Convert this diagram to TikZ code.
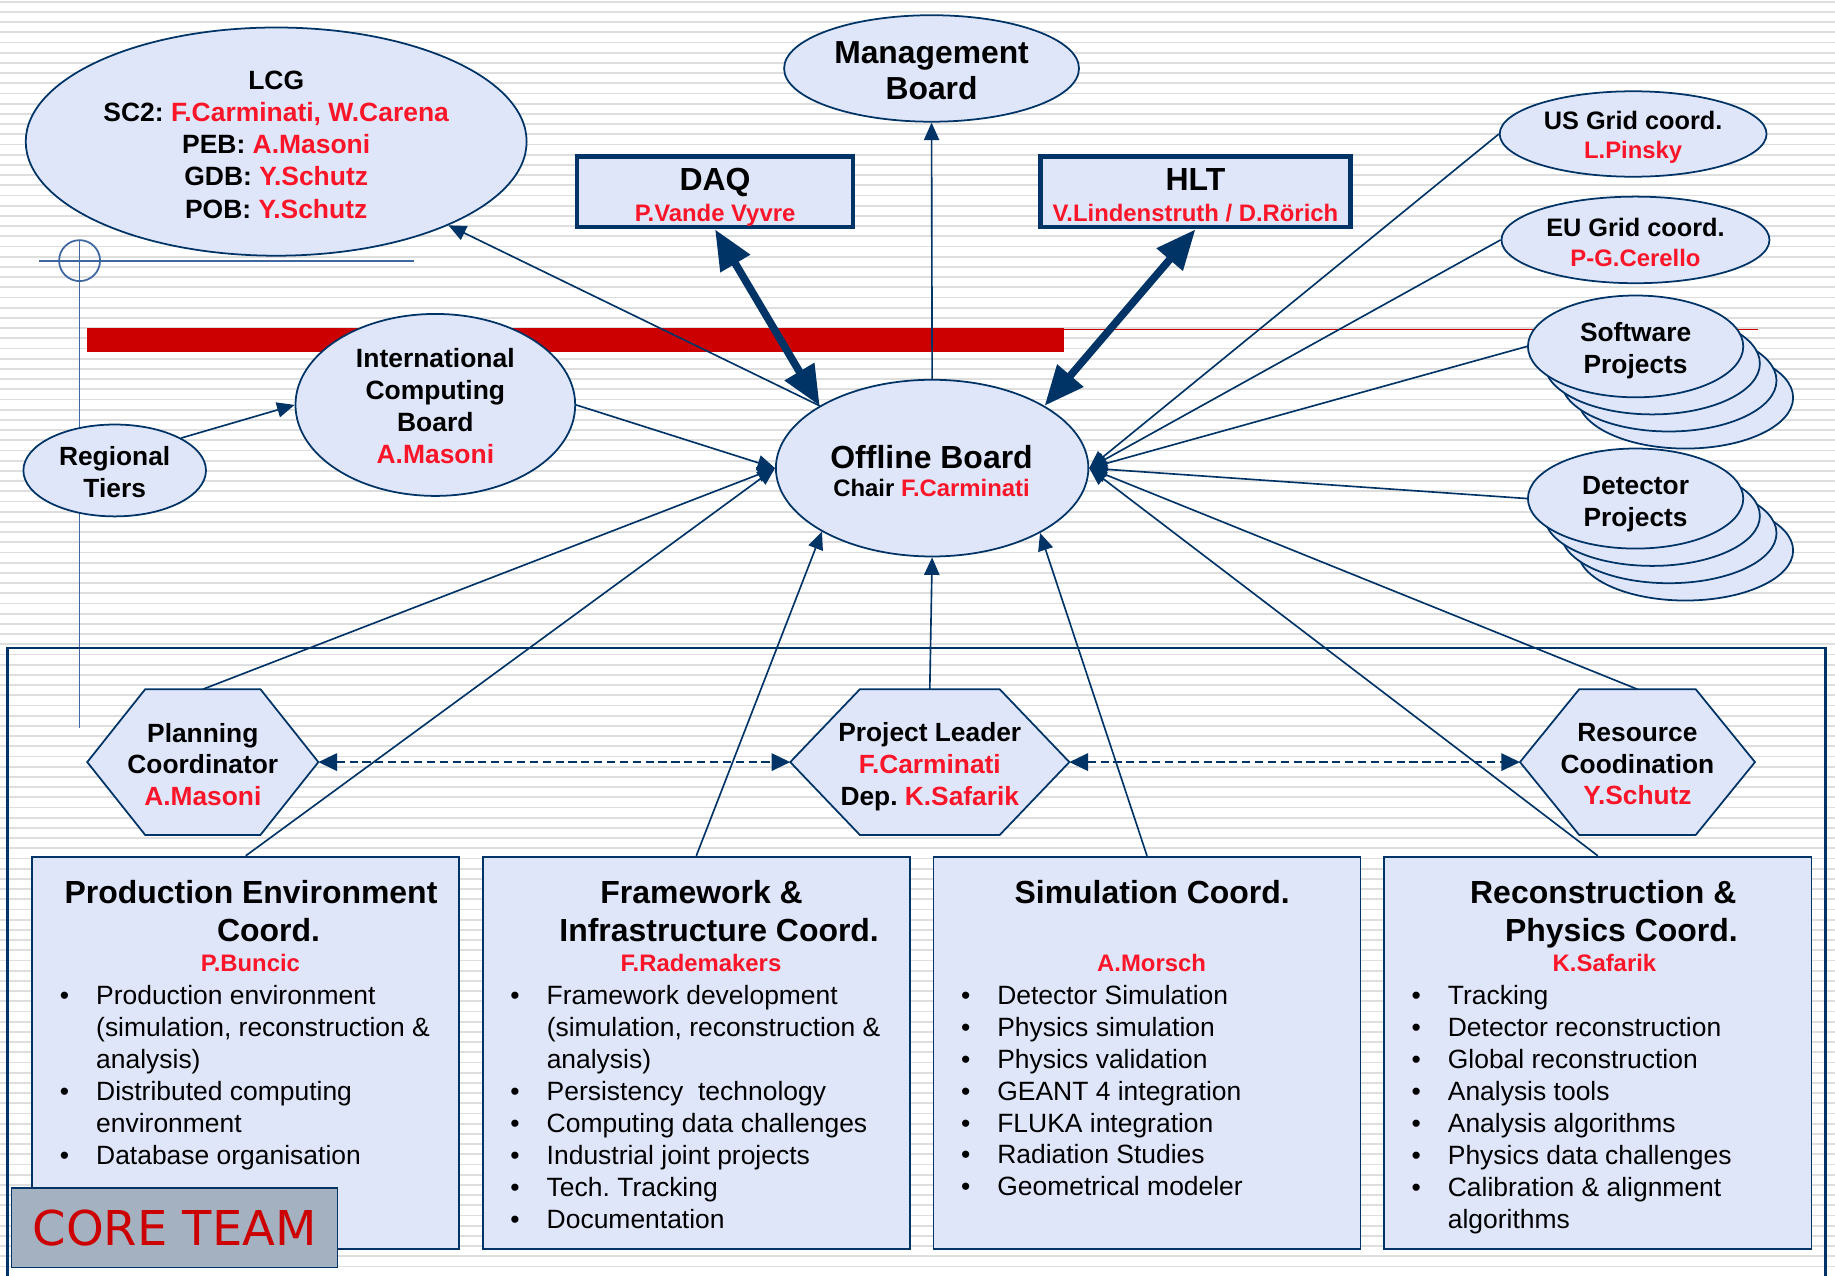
\documentclass[tikz,border=0pt]{standalone}
\usepackage{fontspec}
\setmainfont{Liberation Sans}
\newfontfamily\coreface{DejaVu Sans}
\usetikzlibrary{shapes.geometric,arrows.meta}
\frenchspacing

\definecolor{navy}{RGB}{0,51,102}
\definecolor{lav}{RGB}{224,230,250}
\definecolor{rname}{RGB}{250,22,40}
\definecolor{barred}{RGB}{204,0,0}
\definecolor{crossblue}{RGB}{62,102,160}
\definecolor{coregray}{RGB}{163,177,192}
\definecolor{stripe}{RGB}{222,222,222}

\pgfdeclarelayer{stripes}
\pgfdeclarelayer{fills}
\pgfsetlayers{stripes,fills,main}

% strut that puts the node centre on the middle of the capitals
\newcommand\lstrut{\rule[-0.204em]{0pt}{1.124em}}
\newcommand\nxl{\\\lstrut}
\newcommand\who[1]{\textcolor{rname}{#1}}
\newcommand\bul{\makebox[31pt][l]{\textbullet}}
\newcommand\cont{\hspace*{31pt}}

\begin{document}
\begin{tikzpicture}[x=1pt,y=-1pt,
  ell/.style={ellipse, draw=navy, fill=lav, line width=1.5pt, inner sep=0pt},
  box/.style={rectangle, draw=navy, fill=lav, line width=1.5pt, inner sep=0pt},
  hot/.style={rectangle, draw=navy, fill=lav, line width=4pt, inner sep=0pt},
  hexnode/.style={rectangle, inner sep=0pt, outer sep=0pt, minimum height=124.5pt,
    align=center, execute at begin node=\lstrut,
    font=\fontsize{22.5}{27}\selectfont\bfseries},
  hexline/.style={draw=navy, fill=lav, line width=1.5pt, line join=miter},
  tx/.style={inner sep=0pt, align=center, execute at begin node=\lstrut},
  ml/.style={yshift=-2.7pt},
  fT/.style={font=\fontsize{27.3}{32}\selectfont\bfseries},
  fN/.style={font=\fontsize{20.4}{25}\selectfont\bfseries, text=rname},
  fG/.style={font=\fontsize{21.6}{26}\selectfont\bfseries},
  fB/.style={font=\fontsize{22.6}{27.25}\selectfont},
  conn/.style={draw=navy, line width=1.4pt, -{Triangle[length=15pt,width=13pt]}},
  dual/.style={draw=navy, line width=1.5pt, dash pattern=on 7pt off 4pt,
    {Triangle[length=16pt,width=15pt]}-{Triangle[length=16pt,width=15pt]}},
  heavy/.style={draw=navy, line width=6.5pt,
    {Triangle[length=34pt,width=28pt]}-{Triangle[length=34pt,width=28pt]}},
  cross/.style={draw=crossblue, line width=1.5pt}
]
\useasboundingbox (0,0) rectangle (1568,1090);

% ruled paper background
\begin{pgfonlayer}{stripes}
  \fill[white] (0,0) rectangle (1568,1090);
  \foreach \k in {0,...,125}
    \fill[stripe] (0,{0.6+8.716*\k}) rectangle (1568,{2.2+8.716*\k});
\end{pgfonlayer}

% crosshair mark
\draw[cross] (33,222.7) -- (354,222.7);
\draw[cross] (68,222.7) circle[radius=17.5];
\draw[cross] (68,205.2) -- (68,622);

% red rule
\fill[barred] (74.6,280.6) rectangle (909,300.5);
\draw[barred, line width=1.5pt] (909,281.5) -- (1502,281.5);

% core team frame
\draw[navy, line width=2pt] (6.3,1095) -- (6.3,553.7) -- (1560,553.7) -- (1560,1095);

% LCG
\node[ell, minimum width=428pt, minimum height=195pt] (lcg) at (236,121) {};
\node[tx, ml, font=\fontsize{22.6}{27.5}\selectfont\bfseries] (lcgt) at (236,123)
  {LCG\nxl SC2: \who{F.Carminati, W.Carena}\nxl PEB: \who{A.Masoni}\nxl
   GDB: \who{Y.Schutz}\nxl POB: \who{Y.Schutz}};

% Management Board
\node[ell, minimum width=252pt, minimum height=91pt] (mb) at (796,58.5) {};
\node[tx, ml, font=\fontsize{27.2}{31}\selectfont\bfseries] (mbt) at (796,60.5) {Management\nxl Board};

% DAQ and HLT
\node[hot, minimum width=236pt, minimum height=60pt] (daq) at (611,164) {};
\node[tx, fT] (daqt) at (611,153) {DAQ};
\node[tx, fN] (daqn) at (611,182) {P.Vande Vyvre};
\node[hot, minimum width=265pt, minimum height=60pt] (hlt) at (1021.5,164) {};
\node[tx, fT] (hltt) at (1021.5,153) {HLT};
\node[tx, fN] (hltn) at (1021.5,182) {V.Lindenstruth / D.Rörich};

% Grid coordinators
\node[ell, minimum width=228pt, minimum height=73pt] (usg) at (1395.5,114.5) {};
\node[tx, fG] (usgt) at (1395.5,102.5) {US Grid coord.};
\node[tx, fN] (usgn) at (1395.5,128) {L.Pinsky};
\node[ell, minimum width=229pt, minimum height=74pt] (eug) at (1397.5,205) {};
\node[tx, fG] (eugt) at (1397.5,194.5) {EU Grid coord.};
\node[tx, fN] (eugn) at (1397.5,220.5) {P-G.Cerello};

% stacked project ellipses
\foreach \k in {3,2,1} {
  \node[ell, minimum width=184pt, minimum height=87pt] (sw\k) at ({1397.6+14.2*\k},{296+14.6*\k}) {};
}
\node[ell, minimum width=184pt, minimum height=87pt] (sw) at (1397.6,296) {};
\node[tx, ml, font=\fontsize{22.5}{27}\selectfont\bfseries] (swt) at (1397.6,297) {Software\nxl Projects};
\foreach \k in {3,2,1} {
  \node[ell, minimum width=184pt, minimum height=85.5pt] (dp\k) at ({1397.6+14.2*\k},{426+14.8*\k}) {};
}
\node[ell, minimum width=184pt, minimum height=85.5pt] (dp) at (1397.6,426) {};
\node[tx, ml, font=\fontsize{22.5}{27}\selectfont\bfseries] (dpt) at (1397.6,428) {Detector\nxl Projects};

% International Computing Board and Regional Tiers
\node[ell, minimum width=239pt, minimum height=155.5pt] (icb) at (372,346) {};
\node[tx, ml, font=\fontsize{22.6}{27.3}\selectfont\bfseries] (icbt) at (372,346.5)
  {International\nxl Computing\nxl Board\nxl \who{A.Masoni}};
\node[ell, minimum width=156pt, minimum height=78.5pt] (rt) at (98,402) {};
\node[tx, ml, font=\fontsize{22.5}{27}\selectfont\bfseries] (rtt) at (98,403) {Regional\nxl Tiers};

% Offline Board
\node[ell, minimum width=267pt, minimum height=151pt] (ob) at (796.5,400) {};
\node[tx, fT] (obt) at (796,390.2) {Offline Board};
\node[tx, font=\fontsize{20.4}{25}\selectfont\bfseries] (obn) at (796,417.3) {Chair \who{F.Carminati}};

% hexagonal coordinators
\node[hexnode, minimum width=197.5pt] (pc) at (173.3,651.2) {};
\node[tx, ml, font=\fontsize{22.5}{27}\selectfont\bfseries] (pct) at (173.3,652.5) {Planning\nxl Coordinator\nxl \who{A.Masoni}};
\node[hexnode, minimum width=238.5pt] (pl) at (794.5,651.2) {};
\node[tx, ml, font=\fontsize{22.5}{27}\selectfont\bfseries] (plt) at (794.5,652.5) {Project Leader\nxl \who{F.Carminati}\nxl Dep. \who{K.Safarik}};
\node[hexnode, minimum width=200.8pt] (rc) at (1399.2,651.2) {};
\node[tx, ml, font=\fontsize{22.5}{27}\selectfont\bfseries] (rct) at (1399.2,652.5) {Resource\nxl Coodination\nxl \who{Y.Schutz}};
\begin{pgfonlayer}{fills}
  \foreach \h/\s in {pc/49.5, pl/59.5, rc/50.6}
    \filldraw[hexline] (\h.west) -- ([xshift=\s pt]\h.north west) -- ([xshift=-\s pt]\h.north east)
      -- (\h.east) -- ([xshift=-\s pt]\h.south east) -- ([xshift=\s pt]\h.south west) -- cycle;
\end{pgfonlayer}

% core team boxes
\node[box, minimum width=365pt, minimum height=335pt] (pe) at (210,899.5) {};
\node[box, minimum width=365pt, minimum height=335pt] (fw) at (595,899.5) {};
\node[box, minimum width=365pt, minimum height=335pt] (sim) at (980.1,899.5) {};
\node[box, minimum width=365pt, minimum height=335pt] (rec) at (1365.3,899.5) {};

\node[tx, fT] (pet1) at (214.5,762.5) {Production Environment};
\node[tx, fT] (pet2) at (229.5,795) {Coord.};
\node[tx, fN] (pen) at (214,823) {P.Buncic};
\node[tx, ml, fB, align=left, anchor=west] (pel) at (51,918)
  {\bul Production environment\nxl\cont(simulation, reconstruction \&\nxl\cont analysis)\nxl
   \bul Distributed computing\nxl\cont environment\nxl\bul Database organisation};

\node[tx, fT] (fwt1) at (599.5,762.5) {Framework \&};
\node[tx, fT] (fwt2) at (614.5,795) {Infrastructure Coord.};
\node[tx, fN] (fwn) at (599,823) {F.Rademakers};
\node[tx, ml, fB, align=left, anchor=west] (fwl) at (436,945.5)
  {\bul Framework development\nxl\cont(simulation, reconstruction \&\nxl\cont analysis)\nxl
   \bul Persistency~ technology\nxl\bul Computing data challenges\nxl\bul Industrial joint projects\nxl
   \bul Tech. Tracking\nxl\bul Documentation};

\node[tx, fT] (simt) at (984.5,762.5) {Simulation Coord.};
\node[tx, fN] (simn) at (984,823) {A.Morsch};
\node[tx, ml, fB, align=left, anchor=west] (siml) at (821,931.5)
  {\bul Detector Simulation\nxl\bul Physics simulation\nxl\bul Physics validation\nxl
   \bul GEANT 4 integration\nxl\bul FLUKA integration\nxl\bul Radiation Studies\nxl
   \bul Geometrical modeler};

\node[tx, fT] (rect1) at (1370,762.5) {Reconstruction \&};
\node[tx, fT] (rect2) at (1385.5,795) {Physics Coord.};
\node[tx, fN] (recn) at (1371,823) {K.Safarik};
\node[tx, ml, fB, align=left, anchor=west] (recl) at (1206,945.5)
  {\bul Tracking\nxl\bul Detector reconstruction\nxl\bul Global reconstruction\nxl
   \bul Analysis tools\nxl\bul Analysis algorithms\nxl\bul Physics data challenges\nxl
   \bul Calibration \& alignment\nxl\cont algorithms};

% CORE TEAM label
\node[rectangle, draw=navy, fill=coregray, line width=1.2pt, inner sep=0pt,
  minimum width=278.5pt, minimum height=68pt,
  font=\coreface\fontsize{41}{41}\selectfont, text=barred] (ct) at (149.25,1049) {CORE TEAM};

% connectors
\draw[conn] (ob.north) -- (mb.south);
\draw[conn] (ob.151) -- (lcg);
\draw[heavy] (daq.south) -- (ob.151);
\draw[heavy] (hlt.south) -- (ob.29);
\draw[conn] (rt.26) -- (icb.west);
\draw[conn] (icb.east) -- (ob.west);
\draw[conn] (pc.north) -- (ob.west);
\draw[conn] (pe.north) -- (ob.west);
\draw[conn] (fw.north) -- (ob.210.7);
\draw[conn] (pl.north) -- (ob.south);
\draw[conn] (sim.north) -- (ob.329.6);
\draw[conn] (rec.north) -- (ob.east);
\draw[conn] (rc.north) -- (ob.east);
\draw[conn] (usg.west) -- (ob.east);
\draw[conn] (eug.west) -- (ob.east);
\draw[conn] (sw.west) -- (ob.east);
\draw[conn] (dp.west) -- (ob.east);
\draw[dual] (pc.east) -- (pl.west);
\draw[dual] (pl.east) -- (rc.west);
\end{tikzpicture}
\end{document}
